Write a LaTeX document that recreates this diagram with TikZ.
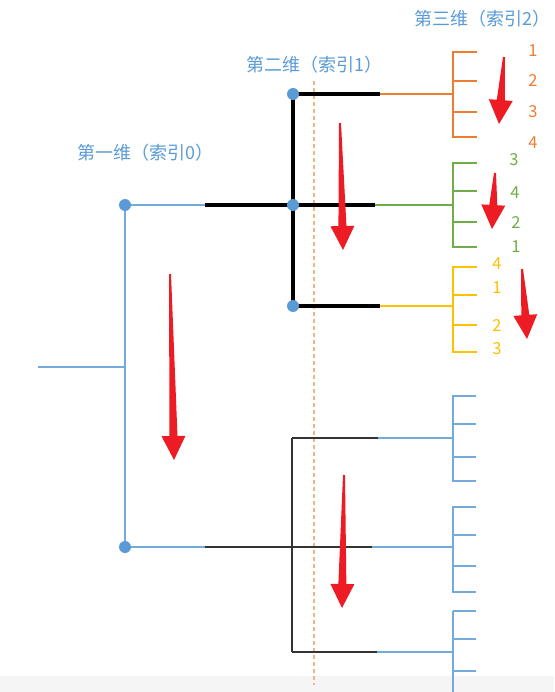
\documentclass[tikz,border=0pt]{standalone}
\usepackage{fontspec}
\newfontfamily\cjk{Noto Sans CJK SC}
\usetikzlibrary{calc}

\definecolor{dimblue}{HTML}{5B9BD5}
\definecolor{dimorange}{HTML}{ED7D31}
\definecolor{dimgreen}{HTML}{70AD47}
\definecolor{dimyellow}{HTML}{FFC000}
\definecolor{arrowred}{HTML}{ED1C24}
\definecolor{guide}{HTML}{F4B183}

% tapered red arrow from #1 (tail) to #2 (tip)
\newcommand{\redarrow}[2]{%
  \fill[arrowred] ($(#1)!1pt!90:(#2)$) -- ($($(#2)!24pt!(#1)$)!4pt!90:(#2)$)
    -- ($($(#2)!24pt!(#1)$)!12pt!90:(#2)$) -- (#2)
    -- ($($(#2)!24pt!(#1)$)!12pt!-90:(#2)$) -- ($($(#2)!24pt!(#1)$)!4pt!-90:(#2)$)
    -- ($(#1)!1pt!-90:(#2)$) -- cycle;}

\begin{document}
\begin{tikzpicture}[x=1pt, y=-1pt,
    dot/.style={circle, fill=dimblue, inner sep=0pt, minimum size=12pt},
    title/.style={font=\cjk\fontsize{18}{21}\selectfont, text=dimblue, anchor=west, inner sep=0pt},
    digit/.style={font=\cjk\fontsize{16.5}{18}\selectfont, inner sep=0pt},
    blueline/.style={draw=dimblue!85, line width=2.1pt},
    darkline/.style={draw=black, line width=3.2pt},
    greyline/.style={draw=black!80, line width=2.1pt},
    leaf/.style={line width=2.8pt}
]
\useasboundingbox (0,0) rectangle (554,692);
\fill[black!4] (0,676) rectangle (554,692);

% Guide line
\coordinate (gtop) at (314,81);
\coordinate (gbot) at (314,685);
\draw[guide, line width=1.8pt, dash pattern=on 4pt off 3pt] (gtop) -- (gbot);

% Titles
\node[title] (t0) at (77,153) {第一维（索引0）};
\node[title] (t1) at (246,65) {第二维（索引1）};
\node[title] (t2) at (414,19) {第三维（索引2）};

% First dimension
\coordinate (root) at (38,367);
\coordinate (rootj) at (125,367);
\coordinate (a0) at (125,205);
\coordinate (b0) at (125,547);
\coordinate (a0m) at (205,205);
\coordinate (b0m) at (205,547);
\draw[blueline] (root) -- (rootj);
\draw[blueline] (a0) -- (b0);
\draw[blueline] (a0) -- (a0m);
\draw[blueline] (b0) -- (b0m);

% Second dimension, upper
\coordinate (a1) at (293,94);
\coordinate (a2) at (293,205);
\coordinate (a3) at (293,306);
\coordinate (a1m) at (380,94);
\coordinate (a2m) at (375,205);
\coordinate (a3m) at (380,306);
\coordinate (a1e) at (453,94);
\coordinate (a2e) at (453,205);
\coordinate (a3e) at (453,306);
\draw[darkline] (a0m) -- (a2);
\draw[darkline] (a1) -- (a3);
\draw[darkline] (a1) -- (a1m);
\draw[darkline] (a2) -- (a2m);
\draw[darkline] (a3) -- (a3m);
\draw[dimorange, leaf] (a1m) -- (a1e);
\draw[dimgreen, leaf] (a2m) -- (a2e);
\draw[dimyellow, leaf] (a3m) -- (a3e);

% Second dimension, lower
\coordinate (b1) at (292,438);
\coordinate (b2) at (292,547);
\coordinate (b3) at (292,652);
\coordinate (b1m) at (378,438);
\coordinate (b2m) at (372,547);
\coordinate (b3m) at (377,652);
\coordinate (b1e) at (453,438);
\coordinate (b2e) at (453,547);
\coordinate (b3e) at (453,652);
\draw[greyline] (b0m) -- (b2);
\draw[greyline] (b1) -- (b3);
\draw[greyline] (b1) -- (b1m);
\draw[greyline] (b2) -- (b2m);
\draw[greyline] (b3) -- (b3m);
\draw[blueline] (b1m) -- (b1e);
\draw[blueline] (b2m) -- (b2e);
\draw[blueline] (b3m) -- (b3e);

% Third dimension
\foreach \name/\col/\ys in {o/dimorange/{52,81,112,137}, g/dimgreen/{163,191,222,247},
    y/dimyellow/{267,295,325,352}} {
  \foreach \y [count=\i] in \ys {
    \coordinate (\name s\i) at (453,\y);
    \coordinate (\name t\i) at (477,\y);
    \draw[\col, leaf] (\name s\i) -- (\name t\i);
  }
  \draw[\col, leaf, line cap=rect] (\name s1) -- (\name s4);
}
\foreach \name/\ys in {p/{396,424,457,481}, q/{507,535,566,592}, r/{611,639,671}} {
  \foreach \y [count=\i] in \ys {
    \coordinate (\name s\i) at (453,\y);
    \coordinate (\name t\i) at (476,\y);
    \draw[blueline] (\name s\i) -- (\name t\i);
  }
}
\coordinate (rend) at (453,692);
\draw[blueline, line cap=rect] (ps1) -- (ps4);
\draw[blueline, line cap=rect] (qs1) -- (qs4);
\draw[blueline] (rs1) -- (rend);

% Index digits
\foreach \d/\y [count=\i] in {1/51,2/81,3/112,4/143}
  \node[digit, text=dimorange] (od\i) at (533,\y) {\d};
\foreach \d/\x/\y [count=\i] in {3/514/160,4/515/193,2/516/223,1/516/247}
  \node[digit, text=dimgreen] (gd\i) at (\x,\y) {\d};
\foreach \d/\y [count=\i] in {4/264,1/288,2/326,3/349}
  \node[digit, text=dimyellow] (yd\i) at (497,\y) {\d};

% Dots
\node[dot] (d0a) at (a0) {};
\node[dot] (d0b) at (b0) {};
\node[dot] (d1a) at (a1) {};
\node[dot] (d1b) at (a2) {};
\node[dot] (d1c) at (a3) {};

% Red arrows
\coordinate (r1s) at (504,57);  \coordinate (r1e) at (499,124);
\coordinate (r2s) at (495,173); \coordinate (r2e) at (492,229);
\coordinate (r3s) at (522,269); \coordinate (r3e) at (527,339);
\coordinate (r4s) at (340,123); \coordinate (r4e) at (343,250);
\coordinate (r5s) at (170,274); \coordinate (r5e) at (174,460);
\coordinate (r6s) at (344,475); \coordinate (r6e) at (342,608);
\foreach \k in {1,...,6} {\redarrow{r\k s}{r\k e}}

\end{tikzpicture}
\end{document}
